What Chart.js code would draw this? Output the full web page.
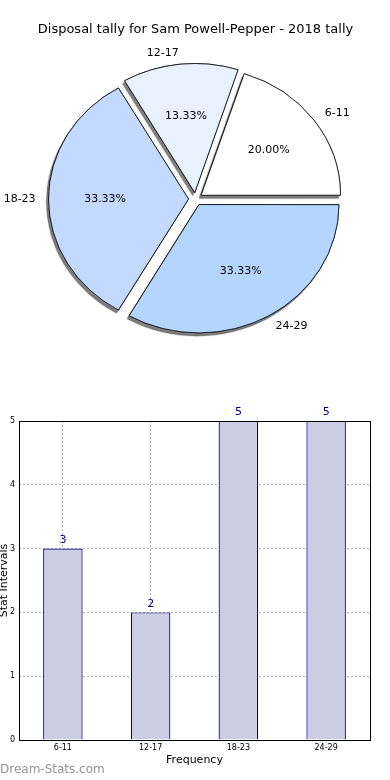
<!DOCTYPE html>
<html>
<head>
<meta charset="utf-8">
<script src="https://cdn.jsdelivr.net/npm/chart.js@4"></script>
<style>
  body { margin: 0; background: #fff; width: 390px; height: 780px; overflow: hidden; position: relative; font-family: "DejaVu Sans", sans-serif; }
  #pieBox { position: absolute; left: 0; top: 0; width: 390px; height: 360px; }
  #barBox { position: absolute; left: -10px; top: 400px; width: 400px; height: 380px; }
  #marca { position: absolute; left: 0; top: 762px; font-size: 12px; color: #939393; font-family: "DejaVu Sans", sans-serif; }
</style>
</head>
<body>
<div id="pieBox"><canvas id="graphPie"></canvas></div>
<div id="barBox"><canvas id="graphBar"></canvas></div>
<div id="marca">Dream-Stats.com</div>
<script>
// datos
var rangos = ['6-11', '12-17', '18-23', '24-29']
var conteo = [3, 2, 5, 5]
var coloresPie = ['#ffffff', '#eaf1fe', '#c4d9fe', '#b4d6fe']
var yTicks = [0, 1, 2, 3, 4, 5]

var total = conteo.reduce(function (a, b) { return a + b }, 0)
var escalaY = 0.917 // el pie original sale achatado
var explota = 7 // px que se separa cada porcion

// el pie va en sentido horario en chart.js, asi que invierto el orden
var rangosPie = rangos.slice().reverse()
var conteoPie = conteo.slice().reverse()
var coloresInv = coloresPie.slice().reverse()

const aplastar = {
  id: 'aplastar',
  beforeDatasetsDraw: function (chart) {
    var arcs = chart.getDatasetMeta(0).data
    var a = arcs[0]
    var ctx = chart.ctx
    ctx.save()
    ctx.translate(a.x, a.y)
    ctx.scale(1, escalaY)
    ctx.translate(-a.x, -a.y)
    // sombra: dibujo las porciones una vez con sombra, despues chart.js las pinta encima
    ctx.save()
    ctx.shadowColor = 'rgba(0,0,0,0.5)'
    ctx.shadowOffsetX = -2
    ctx.shadowOffsetY = 3
    ctx.shadowBlur = 1
    arcs.forEach(function (arc) { arc.draw(ctx) })
    ctx.restore()
  },
  afterDatasetsDraw: function (chart) {
    chart.ctx.restore()
  },
  afterDraw: function (chart) {
    var ctx = chart.ctx
    var meta = chart.getDatasetMeta(0)
    ctx.save()
    ctx.font = '11px "DejaVu Sans"'
    ctx.fillStyle = '#000'
    ctx.textBaseline = 'middle'
    meta.data.forEach(function (arc, i) {
      var mid = (arc.startAngle + arc.endAngle) / 2
      var r = arc.outerRadius
      var c = Math.cos(mid), s = Math.sin(mid)
      // etiqueta de afuera
      var d1 = explota + 1.1 * r
      ctx.textAlign = c >= 0 ? 'left' : 'right'
      ctx.fillText(rangosPie[i], arc.x + d1 * c, arc.y + d1 * s * escalaY)
      // porcentaje
      var d2 = explota + 0.6 * r
      ctx.textAlign = 'center'
      ctx.fillText((conteoPie[i] / total * 100).toFixed(2) + '%', arc.x + d2 * c, arc.y + d2 * s * escalaY)
    })
    ctx.restore()
  }
}

const marco = {
  id: 'marco',
  afterDraw: function (chart) {
    var a = chart.chartArea
    var ctx = chart.ctx
    ctx.save()
    ctx.strokeStyle = '#000'
    ctx.lineWidth = 1
    ctx.strokeRect(Math.round(a.left) + 0.5, Math.round(a.top) + 0.5, Math.round(a.right - a.left), Math.round(a.bottom - a.top))
    // valores arriba de las barras
    ctx.font = '11px "DejaVu Sans"'
    ctx.fillStyle = '#000080'
    ctx.textAlign = 'center'
    ctx.textBaseline = 'bottom'
    chart.getDatasetMeta(0).data.forEach(function (bar, i) {
      ctx.fillText(String(conteo[i]), bar.x, bar.y - 3)
    })
    ctx.restore()
  }
}

function createPie() {
  const ctx = document.getElementById('graphPie').getContext('2d')
  new Chart(ctx, {
    type: 'pie',
    data: {
      labels: rangosPie,
      datasets: [{
        data: conteoPie,
        backgroundColor: coloresInv,
        borderColor: '#000',
        borderWidth: 0.8,
        offset: explota * 4 // chart.js traslada offset/4
      }]
    },
    options: {
      responsive: true,
      maintainAspectRatio: false,
      animation: false,
      rotation: 90,
      radius: 139,
      layout: { padding: { left: 1, bottom: 9.6 } },
      plugins: {
        legend: { display: false },
        tooltip: { enabled: false },
        title: {
          display: true,
          text: 'Disposal tally for Sam Powell-Pepper - 2018 tally',
          color: '#000',
          font: { family: 'DejaVu Sans', size: 13, weight: 'normal', lineHeight: 1.2 },
          padding: { top: 22, bottom: 10 }
        }
      }
    },
    plugins: [aplastar]
  })
}

function createBar() {
  const ctx = document.getElementById('graphBar').getContext('2d')
  new Chart(ctx, {
    type: 'bar',
    data: {
      labels: rangos,
      datasets: [{
        data: conteo,
        backgroundColor: '#cccce5',
        borderColor: '#000080',
        borderWidth: 1.2,
        barPercentage: 0.45,
        categoryPercentage: 1
      }]
    },
    options: {
      responsive: true,
      maintainAspectRatio: false,
      animation: false,
      layout: { padding: { top: 21, right: 20, left: 0, bottom: 0 } },
      plugins: { legend: { display: false }, tooltip: { enabled: false } },
      scales: {
        x: {
          z: 1,
          afterFit: function (s) { s.height = 40 },
          grid: { offset: false, color: 'rgba(150,150,150,0.7)', drawTicks: false },
          border: { display: false, dash: [2, 2] },
          ticks: { color: '#000', padding: 3, font: { family: 'DejaVu Sans', size: 8 } },
          title: {
            display: true, text: 'Frequency', color: '#000',
            font: { family: 'DejaVu Sans', size: 11, lineHeight: 1.2 },
            padding: { top: 0, bottom: 13 }
          }
        },
        y: {
          z: 1,
          min: 0,
          max: 5,
          afterFit: function (s) { s.width = 29 },
          afterBuildTicks: function (s) { s.ticks = yTicks.map(function (v) { return { value: v } }) },
          grid: { color: 'rgba(150,150,150,0.7)', drawTicks: false },
          border: { display: false, dash: [2, 2] },
          ticks: { color: '#000', padding: 4, font: { family: 'DejaVu Sans', size: 8 } },
          title: {
            display: true, text: 'Stat Intervals', color: '#000',
            font: { family: 'DejaVu Sans', size: 11, lineHeight: 1.2 },
            padding: { top: 7.4, bottom: 0 }
          }
        }
      }
    },
    plugins: [marco]
  })
}

createPie()
createBar()
</script>
</body>
</html>
